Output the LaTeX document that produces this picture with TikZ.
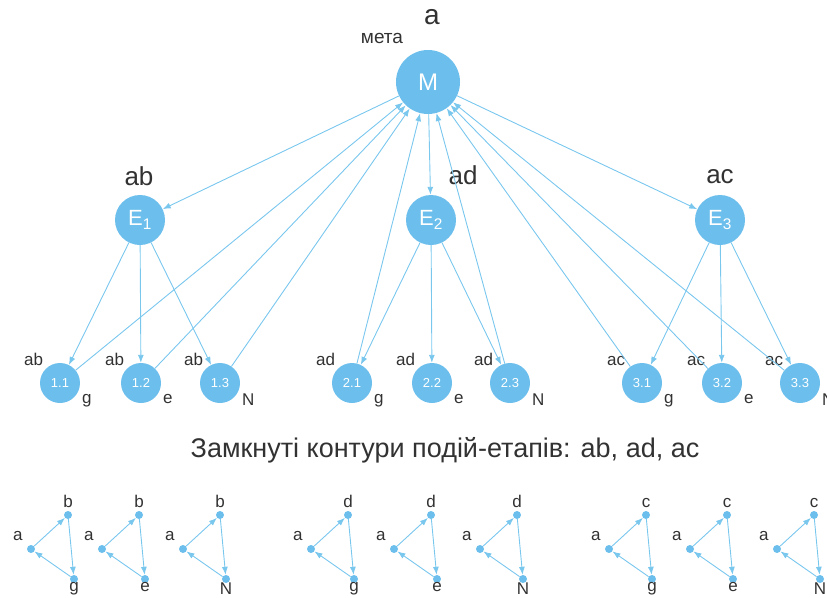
\documentclass[tikz,border=0pt]{standalone}
\usepackage{fontspec}
\setmainfont{Liberation Sans}
\usetikzlibrary{arrows.meta, positioning}
\definecolor{nodeblue}{RGB}{108,191,236}
\definecolor{edgeblue}{RGB}{122,199,238}
\definecolor{labelgray}{RGB}{50,50,50}

\begin{document}
\begin{tikzpicture}[x=1pt, y=-1pt,
    big/.style={circle, fill=nodeblue, text=white, inner sep=0pt, minimum size=64pt, font=\fontsize{24}{24}\selectfont},
    mid/.style={circle, fill=nodeblue, text=white, inner sep=0pt, minimum size=50pt, font=\fontsize{22}{22}\selectfont},
    leaf/.style={circle, fill=nodeblue, text=white, inner sep=0pt, minimum size=40pt, font=\fontsize{13}{13}\selectfont},
    dot/.style={circle, fill=nodeblue, inner sep=0pt, minimum size=8pt},
    lbl/.style={font=\fontsize{17}{17}\selectfont, text=labelgray, inner sep=1pt},
    arr/.style={draw=edgeblue, line width=0.9pt, -{Latex[length=8pt, width=6pt]}},
  ]
  \useasboundingbox (0,0) rectangle (827,597);

  % meta node
  \node[big] (M) at (428,82) {M};
  \node[lbl, font=\fontsize{19}{19}\selectfont] (meta) at (382,38) {мета};
  \node[lbl, font=\fontsize{28}{28}\selectfont] (topa) at (432,17) {a};

  % stages
  \foreach \i/\x/\t/\lx/\ly in {1/140/ab/139/176, 2/431/ad/463/175, 3/720/ac/720/177} {
    \node[mid] (E\i) at (\x,220) {E\textsubscript{\i}};
    \node[lbl, font=\fontsize{26}{26}\selectfont] (S\i) at (\lx,\ly) {\t};
  }

  % events
  \foreach \i/\j/\x/\t/\s in {1/1/60/ab/g, 1/2/141/ab/e, 1/3/220/ab/N,
                              2/1/352/ad/g, 2/2/432/ad/e, 2/3/510/ad/N,
                              3/1/642/ac/g, 3/2/722/ac/e, 3/3/800/ac/N} {
    \node[leaf, label={[lbl, label distance=2pt]135:\t},
          label={[lbl, label distance=3pt]-25:\s}] (L\i\j) at (\x,383) {\i.\j};
  }

  \foreach \i in {1,2,3} {
    \draw[arr] (M) -- (E\i);
    \foreach \j in {1,2,3}
      \draw[arr] (E\i) -- (L\i\j);
  }
  \foreach \n in {11,12,13,21,23,31,32,33}
    \draw[arr] (L\n) -- (M);

  \node[font=\fontsize{27}{27}\selectfont, text=labelgray] (title) at (445,450)
    {Замкнуті контури подій-етапів: ab, ad, ac};

  % closed loops
  \foreach \k/\x/\u/\s in {1/31/b/g, 2/102/b/e, 3/183/b/N,
                           4/311/d/g, 5/394/d/e, 6/480/d/N,
                           7/609/c/g, 8/690/c/e, 9/777/c/N} {
    \node[dot, label={[lbl, label distance=6pt]135:a}] (A\k) at (\x,549) {};
    \node[dot, label={[lbl, label distance=2pt]90:\u}] (B\k) at (\x+37,515) {};
    \node[dot, label={[lbl, label distance=-2pt]-90:\s}] (C\k) at (\x+43,579) {};
    \draw[arr] (A\k) -- (B\k);
    \draw[arr] (B\k) -- (C\k);
    \draw[arr] (C\k) -- (A\k);
  }
\end{tikzpicture}
\end{document}
